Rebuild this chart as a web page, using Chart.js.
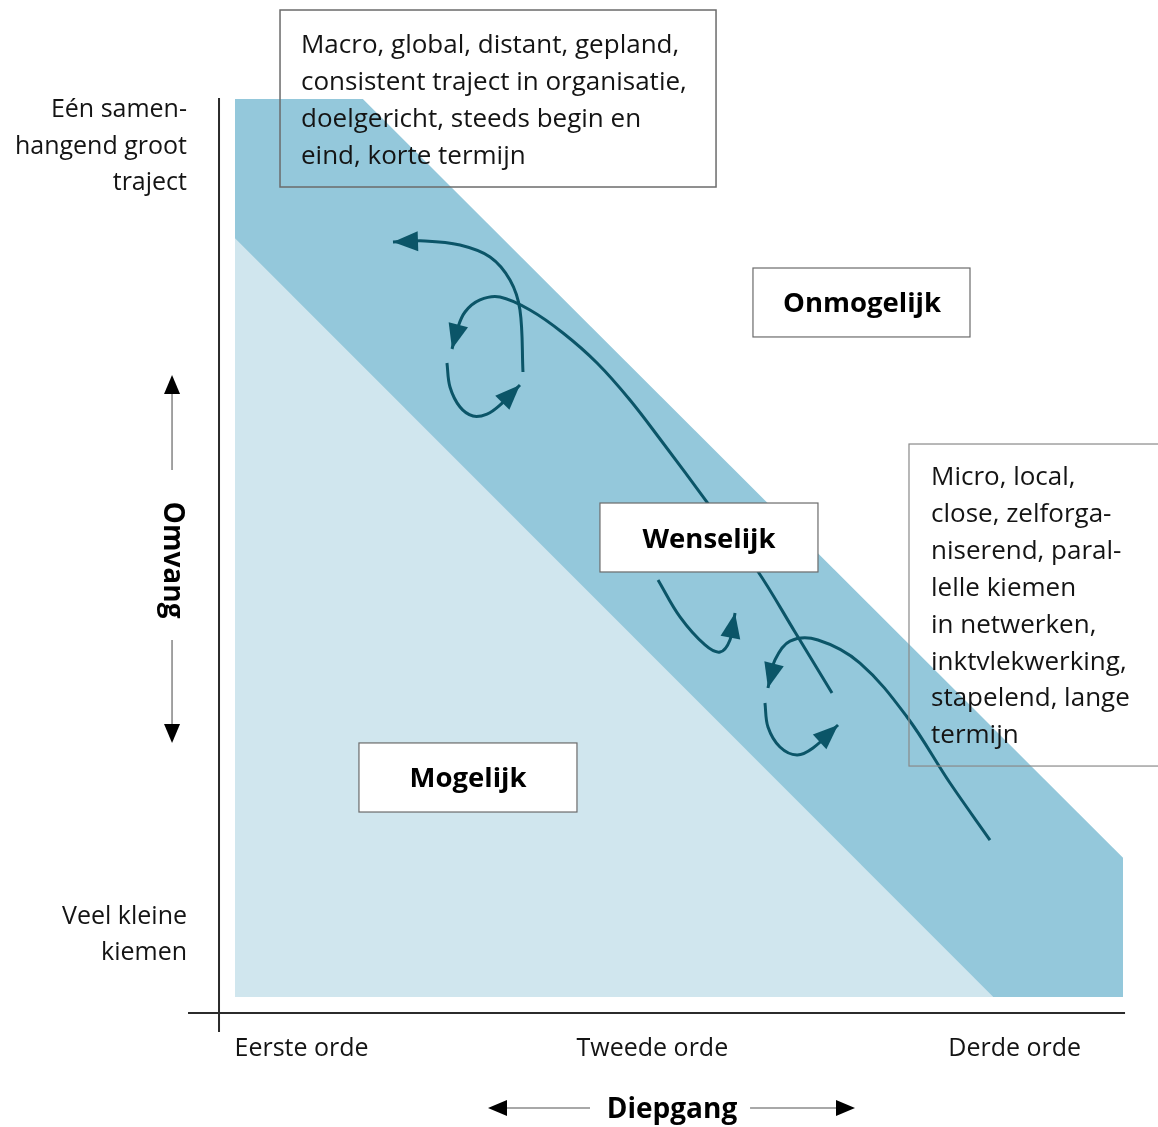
<!DOCTYPE html>
<html><head><meta charset="utf-8">
<script src="https://cdn.jsdelivr.net/npm/chart.js@4.4.0/dist/chart.umd.min.js"></script>
<style>html,body{margin:0;padding:0;background:#fff;}#wrap{width:1158px;height:1127px;position:relative;}</style>
</head><body><div id="wrap"><canvas id="c"></canvas></div>
<script>
// ---- data (x = Diepgang 0..10, y = Omvang 0..10) ----
const depthLabels = ['Eerste orde', 'Tweede orde', 'Derde orde'];
const depthPositions = [0.75, 4.70, 8.78];
const scopeLabels = [['Eén samen-', 'hangend groot', 'traject'], ['Veel kleine', 'kiemen']];
const scopePositions = [9.47, 0.69];

const desirableUpperEdge = [{x:0,y:10},{x:1.44,y:10},{x:10,y:1.55}];
const possibleUpperEdge  = [{x:0,y:8.45},{x:8.54,y:0}];

const loopA = [{x:3.243,y:6.960},{x:3.209,y:7.650},{x:3.097,y:7.984},{x:2.872,y:8.241},{x:2.534,y:8.374},{x:2.140,y:8.419},{x:1.779,y:8.408}];
const loopB = [{x:6.723,y:3.385},{x:6.306,y:4.065},{x:5.878,y:4.755},{x:5.315,y:5.512},{x:4.820,y:6.169},{x:4.448,y:6.648},{x:4.077,y:7.060},{x:3.694,y:7.394},{x:3.322,y:7.650},{x:2.984,y:7.795},{x:2.759,y:7.762},{x:2.590,y:7.628},{x:2.500,y:7.428},{x:2.444,y:7.216}];
const loopC = [{x:2.387,y:7.060},{x:2.421,y:6.793},{x:2.534,y:6.570},{x:2.680,y:6.470},{x:2.838,y:6.492},{x:2.984,y:6.592},{x:3.209,y:6.815}];
const loopD = [{x:4.764,y:4.644},{x:5.011,y:4.232},{x:5.293,y:3.920},{x:5.462,y:3.842},{x:5.574,y:3.976},{x:5.631,y:4.276}];
const loopE = [{x:8.502,y:1.748},{x:8.052,y:2.383},{x:7.568,y:3.118},{x:7.038,y:3.719},{x:6.565,y:3.976},{x:6.250,y:3.964},{x:6.081,y:3.753},{x:6.002,y:3.441}];
const loopF = [{x:5.968,y:3.274},{x:6.002,y:3.007},{x:6.137,y:2.784},{x:6.329,y:2.695},{x:6.509,y:2.773},{x:6.791,y:3.029}];

const topNote = ['Macro, global, distant, gepland,', 'consistent traject in organisatie,', 'doelgericht, steeds begin en', 'eind, korte termijn'];
const sideNote = ['Micro, local,', 'close, zelforga-', 'niserend, paral-', 'lelle kiemen', 'in netwerken,', 'inktvlekwerking,', 'stapelend, lange', 'termijn'];
const zoneLabels = ['Onmogelijk', 'Wenselijk', 'Mogelijk'];
const axisTitles = ['Omvang', 'Diepgang'];

// ---- styles ----
const DARK = '#94c8db', LIGHT = '#d0e6ee', TEAL = '#0b5568', INK = '#141414';
const FONT = '"Open Sans", "Noto Sans", sans-serif';

function curve(data) {
  return {data, borderColor: TEAL, borderWidth: 3, pointRadius: 0, tension: 0.36, fill: false, order: 1, arrowHead: true, clip: false};
}

const annot = {
  id: 'annot',
  afterDatasetsDraw(chart) {
    const ctx = chart.ctx, sx = chart.scales.x, sy = chart.scales.y;
    const X = v => sx.getPixelForValue(v), Y = v => sy.getPixelForValue(v);
    ctx.save();
    // arrow heads
    chart.data.datasets.forEach((ds, i) => {
      if (!ds.arrowHead) return;
      const pts = chart.getDatasetMeta(i).data;
      const a = pts[pts.length - 2], b = pts[pts.length - 1];
      const ang = Math.atan2(b.y - a.y, b.x - a.x);
      const L = 25, W = 10;
      ctx.fillStyle = TEAL;
      ctx.beginPath();
      ctx.moveTo(b.x, b.y);
      ctx.lineTo(b.x - L*Math.cos(ang) - W*Math.sin(ang), b.y - L*Math.sin(ang) + W*Math.cos(ang));
      ctx.lineTo(b.x - L*Math.cos(ang) + W*Math.sin(ang), b.y - L*Math.sin(ang) - W*Math.cos(ang));
      ctx.closePath(); ctx.fill();
    });
    // axis lines
    ctx.strokeStyle = '#2b2b2b'; ctx.lineWidth = 2;
    ctx.beginPath();
    ctx.moveTo(X(-0.18), Y(10.01)); ctx.lineTo(X(-0.18), Y(-0.39));
    ctx.moveTo(X(-0.529), Y(-0.178)); ctx.lineTo(X(10.023), Y(-0.178));
    ctx.stroke();

    // boxes
    function box(x0, y0, x1, y1, fill, color, lw) {
      const l = X(x0), t = Y(y0), r = X(x1), bt = Y(y1);
      if (fill) { ctx.fillStyle = fill; ctx.fillRect(l, t, r - l, bt - t); }
      ctx.strokeStyle = color; ctx.lineWidth = lw;
      ctx.strokeRect(l, t, r - l, bt - t);
    }
    box(0.507, 10.991, 5.417, 9.020, null, '#6b6b6b', 1.5);
    box(5.833, 8.118, 8.277, 7.350, '#ffffff', '#6b6b6b', 1.2);
    box(4.110, 5.501, 6.565, 4.733, '#ffffff', '#6b6b6b', 1.2);
    box(1.396, 2.829, 3.851, 2.060, '#ffffff', '#6b6b6b', 1.2);
    box(7.590, 6.158, 10.45, 2.572, null, '#8a8a8a', 1.2);

    // note texts
    ctx.fillStyle = INK; ctx.textBaseline = 'middle'; ctx.textAlign = 'left';
    ctx.font = '26px ' + FONT;
    topNote.forEach((s, i) => ctx.fillText(s, X(0.743), Y(10.600 - i*0.412)));
    sideNote.forEach((s, i) => ctx.fillText(s, X(7.838), Y(5.780 - i*0.4104)));

    // zone labels
    ctx.font = 'bold 27.5px ' + FONT; ctx.textAlign = 'center'; ctx.fillStyle = '#000';
    ctx.fillText(zoneLabels[0], X(7.061), Y(7.717));
    ctx.fillText(zoneLabels[1], X(5.338), Y(5.089));
    ctx.fillText(zoneLabels[2], X(2.624), Y(2.428));

    // axis titles with arrows
    function arrowHead(x, y, ang) {
      const L = 19, W = 8;
      ctx.beginPath();
      ctx.moveTo(x, y);
      ctx.lineTo(x - L*Math.cos(ang) - W*Math.sin(ang), y - L*Math.sin(ang) + W*Math.cos(ang));
      ctx.lineTo(x - L*Math.cos(ang) + W*Math.sin(ang), y - L*Math.sin(ang) - W*Math.cos(ang));
      ctx.closePath(); ctx.fill();
    }
    ctx.strokeStyle = '#8c8c8c'; ctx.lineWidth = 1.6; ctx.fillStyle = '#000';
    const ox = X(-0.709);
    ctx.beginPath();
    ctx.moveTo(ox, Y(5.869)); ctx.lineTo(ox, Y(6.80));
    ctx.moveTo(ox, Y(3.976)); ctx.lineTo(ox, Y(2.95));
    const dy = Y(-1.236);
    ctx.moveTo(X(3.00), dy); ctx.lineTo(X(3.998), dy);
    ctx.moveTo(X(5.800), dy); ctx.lineTo(X(6.85), dy);
    ctx.stroke();
    arrowHead(ox, Y(6.927), -Math.PI/2);
    arrowHead(ox, Y(2.829), Math.PI/2);
    arrowHead(X(2.849), dy, Math.PI);
    arrowHead(X(6.982), dy, 0);

    ctx.font = 'bold 28px ' + FONT; ctx.textAlign = 'center'; ctx.textBaseline = 'middle';
    ctx.fillText(axisTitles[1], X(4.921), dy + 2);
    ctx.save();
    ctx.translate(ox, Y(4.866)); ctx.rotate(Math.PI/2);
    ctx.fillText(axisTitles[0], 0, 0);
    ctx.restore();
    ctx.restore();
  }
};

new Chart(document.getElementById('c'), {
  type: 'line',
  data: {
    datasets: [
      {data: desirableUpperEdge, borderWidth: 0, pointRadius: 0, tension: 0, backgroundColor: DARK, fill: 'origin', order: 10},
      {data: possibleUpperEdge, borderWidth: 0, pointRadius: 0, tension: 0, backgroundColor: LIGHT, fill: 'origin', order: 9},
      curve(loopA), curve(loopB), curve(loopC), curve(loopD), curve(loopE), curve(loopF)
    ]
  },
  options: {
    responsive: true, maintainAspectRatio: false, animation: false,
    layout: {padding: {left: 0, top: 99, right: 35, bottom: 0}},
    plugins: {legend: {display: false}, tooltip: {enabled: false}},
    scales: {
      x: {
        type: 'linear', min: 0, max: 10,
        grid: {display: false, drawTicks: false}, border: {display: false},
        afterBuildTicks: s => { s.ticks = depthPositions.map(v => ({value: v})); },
        afterFit: s => { s.height = 130; },
        ticks: {autoSkip: false, maxRotation: 0, padding: 37, color: INK, font: {family: FONT, size: 25},
          callback: (v, i) => depthLabels[i]}
      },
      y: {
        type: 'linear', min: 0, max: 10,
        grid: {display: false, drawTicks: false}, border: {display: false},
        afterBuildTicks: s => { s.ticks = scopePositions.map(v => ({value: v})); },
        afterFit: s => { s.width = 235; },
        ticks: {autoSkip: false, padding: 48, color: INK, font: {family: FONT, size: 25, lineHeight: 1.46},
          callback: (v, i) => scopeLabels[i]}
      }
    }
  },
  plugins: [annot]
});
</script></body></html>
